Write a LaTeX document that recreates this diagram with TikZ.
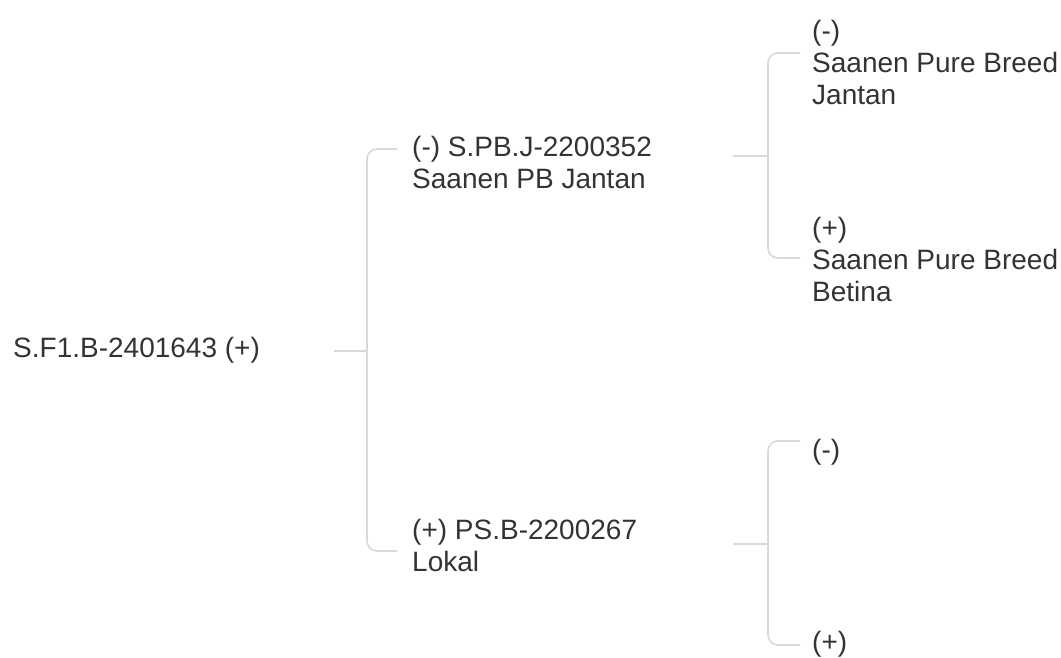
\documentclass[tikz,border=0pt]{standalone}
\usepackage{fontspec}
\setmainfont{Liberation Sans}
\usetikzlibrary{positioning,calc}
\definecolor{linkgray}{HTML}{D9D9D9}
\definecolor{textgray}{HTML}{333333}
\tikzset{
	link/.style={draw=linkgray, line width=1.6pt, rounded corners=10pt},
	label/.style={anchor=west, inner sep=0pt, align=left, text=textgray,
		font=\fontsize{28}{32}\selectfont}
}

\begin{document}
\begin{tikzpicture}[x=1pt, y=-1pt]
	\useasboundingbox (0,0) rectangle (1061,658);
	
	\node[label] (root) at (13,350) {S.F1.B-2401643 (+)};
	\coordinate (r0) at (334,351);
	\coordinate (j0) at (367,351);
	\coordinate (e1) at (397,149);
	\coordinate (e2) at (397,551);
	
	\node[label] (sire) at (412,162) {(-) S.PB.J-2200352\\Saanen PB Jantan};
	\node[label] (dam) at (412,545) {(+) PS.B-2200267\\Lokal};
	
	\coordinate (rs) at (733,156);
	\coordinate (js) at ($(rs)+(35,0)$);
	\coordinate (rd) at (733,544);
	\coordinate (jd) at ($(rd)+(35,0)$);
	
	\coordinate (es1) at (800,53);
	\coordinate (es2) at (800,258);
	\coordinate (ed1) at (800,441);
	\coordinate (ed2) at (800,645);
	
	\node[label] (ss) at (812,62) {(-)\\Saanen Pure Breed\\Jantan};
	\node[label] (sd) at (812,259) {(+)\\Saanen Pure Breed\\Betina};
	\node[label] (ds) at (812,452) {(-)};
	\node[label] (dd) at (812,644) {(+)};
	
	\draw[link] (r0) -- (j0);
	\draw[link] (j0) |- (e1);
	\draw[link] (j0) |- (e2);
	
	\draw[link] (rs) -- (js);
	\draw[link] (js) |- (es1);
	\draw[link] (js) |- (es2);
	
	\draw[link] (rd) -- (jd);
	\draw[link] (jd) |- (ed1);
	\draw[link] (jd) |- (ed2);
\end{tikzpicture}
\end{document}
